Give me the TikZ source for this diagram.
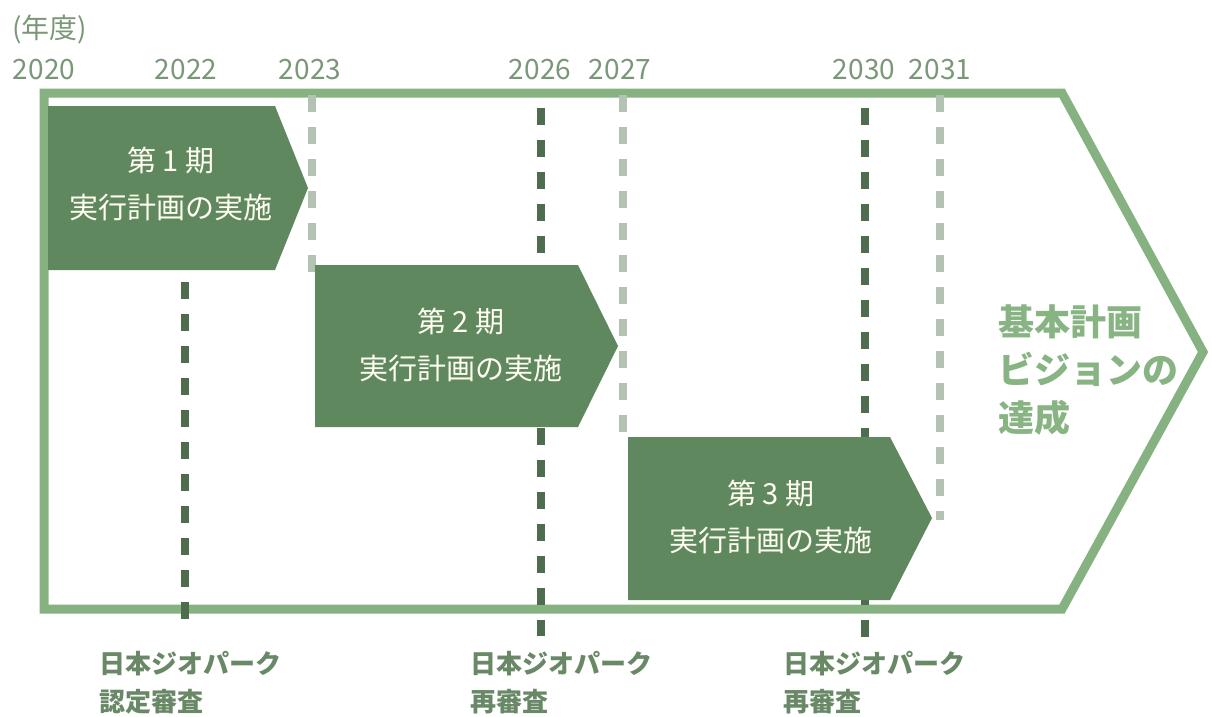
\documentclass[tikz,border=0pt]{standalone}
\usepackage{fontspec}
\newfontfamily\jp{Noto Sans CJK JP}
\definecolor{framegreen}{RGB}{134,178,130}
\definecolor{arrowgreen}{RGB}{96,136,94}
\definecolor{darkdash}{RGB}{78,108,78}
\definecolor{lightdash}{RGB}{180,194,180}
\definecolor{yeartext}{RGB}{122,152,120}
\definecolor{labeltext}{RGB}{104,136,102}
\definecolor{goaltext}{RGB}{136,180,132}
\tikzset{
  darkline/.style={draw=darkdash, line width=8pt, dash pattern=on 17pt off 15pt},
  lightline/.style={draw=lightdash, line width=8pt, dash pattern=on 17pt off 15pt},
  yearlabel/.style={text=yeartext, font=\jp\fontsize{28}{30}\selectfont, inner sep=0pt},
  bottomlabel/.style={text=labeltext, font=\jp\bfseries\fontsize{26}{38}\selectfont, align=left, anchor=north west, inner sep=0pt},
  phasetext/.style={text=white!94!yellow, font=\jp\fontsize{29}{47}\selectfont, align=center, inner sep=0pt},
  phasebox/.style={fill=arrowgreen},
  framebox/.style={draw=framegreen, line width=9pt, line join=miter}
}
\begin{document}
\begin{tikzpicture}[x=1pt,y=-1pt]
\useasboundingbox (0,0) rectangle (1212,716);
% outer frame
\draw[framebox] (44,93) -- (1062,93) -- (1203,352) -- (1062,609) -- (44,609) -- cycle;
% years
\node[yearlabel, anchor=west] (nendo) at (12,29) {(年度)};
\node[yearlabel] (y2020) at (44,70) {2020};
\node[yearlabel] (y2022) at (186,70) {2022};
\node[yearlabel] (y2023) at (310,70) {2023};
\node[yearlabel] (y2026) at (540,70) {2026};
\node[yearlabel] (y2027) at (620,70) {2027};
\node[yearlabel] (y2030) at (864,70) {2030};
\node[yearlabel] (y2031) at (940,70) {2031};
% dashed lines
\coordinate (a1) at (185,282); \coordinate (a2) at (185,632);
\coordinate (b1) at (541,108); \coordinate (b2) at (541,636);
\coordinate (c1) at (865,108); \coordinate (c2) at (865,640);
\coordinate (d1) at (312,95); \coordinate (d2) at (312,274);
\coordinate (e1) at (623,95); \coordinate (e2) at (623,436);
\coordinate (f1) at (940,95); \coordinate (f2) at (940,520);
\draw[darkline] (a1) -- (a2);
\draw[darkline] (b1) -- (b2);
\draw[darkline] (c1) -- (c2);
\draw[lightline] (d1) -- (d2);
\draw[lightline] (e1) -- (e2);
\draw[lightline] (f1) -- (f2);
% phase arrows
\fill[phasebox] (48,106) -- (275,106) -- (308,188) -- (275,270) -- (48,270) -- cycle;
\fill[phasebox] (315,265) -- (578,265) -- (618,346) -- (578,427) -- (315,427) -- cycle;
\fill[phasebox] (628,437) -- (890,437) -- (932,518) -- (890,600) -- (628,600) -- cycle;
\node[phasetext] (p1) at (171,184) {第 1 期\\実行計画の実施};
\node[phasetext] (p2) at (461,345) {第 2 期\\実行計画の実施};
\node[phasetext] (p3) at (771,517) {第 3 期\\実行計画の実施};
% goal text
\node[text=goaltext, font=\jp\bfseries\fontsize{36}{48}\selectfont, align=left, anchor=west, inner sep=0pt] (goal) at (998,370) {基本計画\\ビジョンの\\達成};
% bottom labels
\node[bottomlabel] (l1) at (99,651) {日本ジオパーク\\認定審査};
\node[bottomlabel] (l2) at (470,651) {日本ジオパーク\\再審査};
\node[bottomlabel] (l3) at (783,651) {日本ジオパーク\\再審査};
\end{tikzpicture}
\end{document}
